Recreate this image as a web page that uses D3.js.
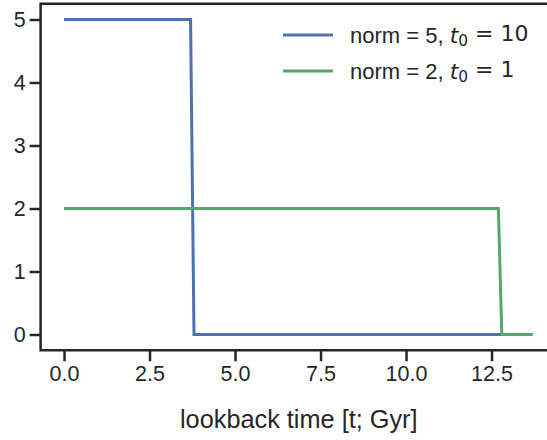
<!DOCTYPE html>
<html>
<head>
<meta charset="utf-8">
<script src="https://cdn.jsdelivr.net/npm/d3@7"></script>
<style>
  html, body { margin: 0; padding: 0; background: #fff; }
  svg { display: block; }
  text { font-family: "Liberation Sans", Arial, sans-serif; fill: #262626; }
</style>
</head>
<body>
<svg id="chart" width="547" height="440"></svg>
<script>
// Step histories: value against lookback time (Gyr)
const blueTimes = [0, 3.7, 3.8, 13.7];
const blueValues = [5, 5, 0, 0];
const greenTimes = [0, 12.7, 12.8, 13.7];
const greenValues = [2, 2, 0, 0];

const seriesNorm = [5, 2];
const seriesT0 = [10, 1];
const seriesColors = ["#4c72b0", "#55a868"];

const xTickValues = [0, 2.5, 5, 7.5, 10, 12.5];
const yTickValues = [0, 1, 2, 3, 4, 5];
const xLabel = "lookback time [t; Gyr]";

const plot = { left: 40.6, right: 556, top: 3.75, bottom: 350.25 };

const svg = d3.select("#chart");

const x = d3.scaleLinear().domain([-0.685, 14.385]).range([plot.left, plot.right]);
const y = d3.scaleLinear().domain([-0.25, 5.25]).range([plot.bottom, plot.top]);

const ink = "#262626";

// Lines
const series = [
  { t: blueTimes, v: blueValues },
  { t: greenTimes, v: greenValues }
];
const line = d3.line().x(d => x(d[0])).y(d => y(d[1]));
series.forEach((s, i) => {
  svg.append("path")
    .datum(s.t.map((t, j) => [t, s.v[j]]))
    .attr("d", line)
    .attr("fill", "none")
    .attr("stroke", seriesColors[i])
    .attr("stroke-width", 3)
    .attr("stroke-linejoin", "miter");
});

// Axes
const xAxis = d3.axisBottom(x).tickValues(xTickValues).tickFormat(d3.format(".1f"))
  .tickSizeInner(11).tickSizeOuter(0).tickPadding(4);
const yAxis = d3.axisLeft(y).tickValues(yTickValues).tickFormat(d3.format("d"))
  .tickSizeInner(11).tickSizeOuter(0).tickPadding(4);

const gx = svg.append("g").attr("transform", `translate(0,${plot.bottom})`).call(xAxis);
const gy = svg.append("g").attr("transform", `translate(${plot.left},0)`).call(yAxis);

[gx, gy].forEach(g => {
  g.select(".domain").remove();
  g.selectAll(".tick line").attr("stroke", ink).attr("stroke-width", 2.5);
  g.selectAll(".tick text").attr("fill", ink)
    .style("font-family", '"Liberation Sans", Arial, sans-serif')
    .style("font-size", "21.5px");
});

// Frame
svg.append("rect")
  .attr("x", plot.left).attr("y", plot.top)
  .attr("width", plot.right - plot.left).attr("height", plot.bottom - plot.top)
  .attr("fill", "none").attr("stroke", ink).attr("stroke-width", 2.5);

// Axis label
svg.append("text")
  .attr("x", (x(xTickValues[0]) + x(xTickValues[xTickValues.length - 1])) / 2 + 21)
  .attr("y", 428)
  .attr("text-anchor", "middle")
  .style("font-size", "25.3px")
  .text(xLabel);

// Legend: plain text followed by a math-style "t_0 = value"
const mathFont = '"DejaVu Sans", sans-serif';
const legend = svg.append("g").attr("transform", "translate(283,35)");
seriesNorm.forEach((n, i) => {
  const g = legend.append("g").attr("transform", `translate(0,${i * 36})`);
  g.append("line").attr("x1", 0).attr("x2", 50).attr("y1", 0).attr("y2", 0)
    .attr("stroke", seriesColors[i]).attr("stroke-width", 3);
  const t = g.append("text").attr("x", 67).attr("y", 0).attr("dy", "0.36em")
    .style("font-size", "22px");
  t.append("tspan").text(`norm = ${n}, `);
  t.append("tspan").style("font-family", mathFont).style("font-style", "italic").text("t");
  t.append("tspan").attr("dy", "0.22em").style("font-family", mathFont).style("font-size", "15.4px").text("0");
  t.append("tspan").attr("dy", "-0.22em").style("font-family", mathFont).text(` = ${seriesT0[i]}`);
});
</script>
</body>
</html>
